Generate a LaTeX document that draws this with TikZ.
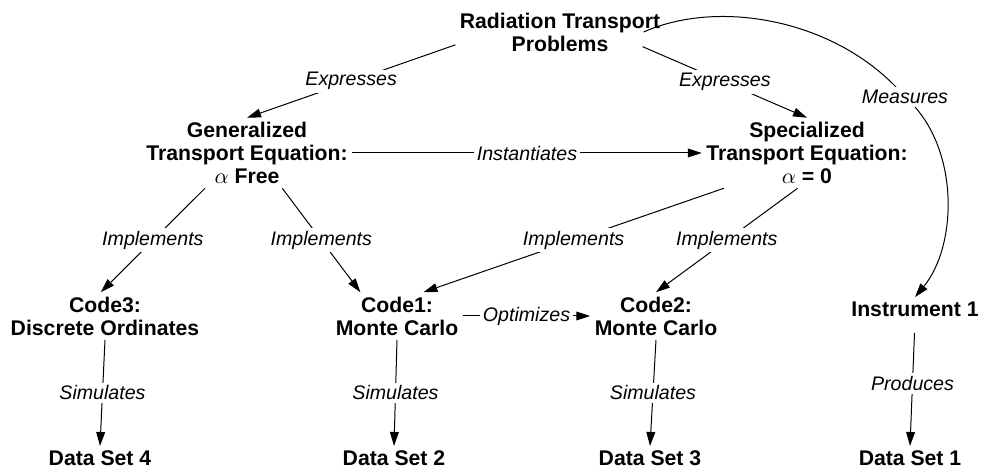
\documentclass[tikz,border=0pt]{standalone}
\usepackage{fontspec}
\setmainfont{Liberation Sans}
\usetikzlibrary{arrows.meta}

\tikzset{
  concept/.style={font=\bfseries\fontsize{10.6}{11.5}\selectfont, align=center, inner sep=2pt},
  rel/.style={font=\itshape\fontsize{9.8}{11}\selectfont, fill=white, inner sep=1.5pt},
}

\begin{document}
\begin{tikzpicture}[x=0.5pt, y=-0.5pt, line width=0.5pt, >={Triangle[length=7pt,width=4.4pt]}]
  \useasboundingbox (0,0) rectangle (1002,470);
  \draw
    (560,32) node[concept] (prob){Radiation Transport\\Problems}
    (247,153) node[concept] (gen){Generalized\\Transport Equation:\\$\alpha$ Free}
    (807,153) node[concept] (spec){Specialized\\Transport Equation:\\$\alpha$ = 0}
    (105,316) node[concept] (code3){Code3:\\Discrete Ordinates}
    (397,316) node[concept] (code1){Code1:\\Monte Carlo}
    (656,316) node[concept] (code2){Code2:\\Monte Carlo}
    (915,309) node[concept] (inst){Instrument 1}
    (100,458) node[concept] (ds4){Data Set 4}
    (394,458) node[concept] (ds2){Data Set 2}
    (650,458) node[concept] (ds3){Data Set 3}
    (910,458) node[concept] (ds1){Data Set 1};
  \begin{scope}[->]
    \draw (prob.187) -- node[rel]{Expresses} (gen.north);
    \draw ([xshift=-11pt]prob.352) -- node[rel]{Expresses} (spec.north);
    \draw ([xshift=-10.5pt]prob.east) .. controls (720,-2) and (840,20) .. (905,97) node[rel]{Measures}
      .. controls (960,145) and (958,245) .. (inst.north);
    \draw (gen.east) -- node[rel]{Instantiates} (spec.west);
    \draw (gen.220) -- node[rel]{Implements} (code3.100);
    \draw (gen.315) -- node[rel]{Implements} (code1.147);
    \draw (spec.203) -- node[rel]{Implements} (code1.42);
    \draw (spec.255) -- node[rel]{Implements} (code2.north);
    \draw (code1.east) -- node[rel]{Optimizes} (code2.west);
    \draw (code3.south) -- node[rel]{Simulates} (ds4.north);
    \draw (code1.south) -- node[rel]{Simulates} (ds2.north);
    \draw (code2.south) -- node[rel]{Simulates} (ds3.north);
    \draw[shorten <=6pt] (inst.south) -- node[rel]{Produces} (ds1.north);
  \end{scope}
\end{tikzpicture}
\end{document}
